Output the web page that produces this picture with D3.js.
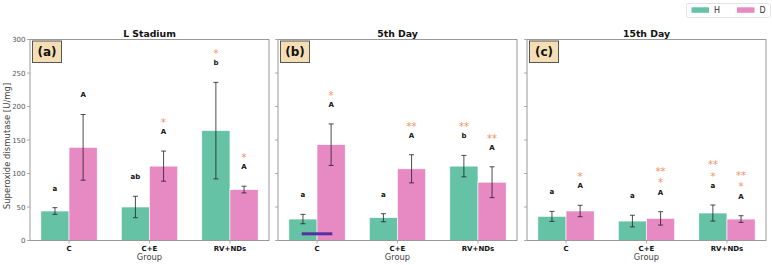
<!DOCTYPE html>
<html><head><meta charset="utf-8">
<script src="https://cdn.jsdelivr.net/npm/d3@7"></script>
<style>body{margin:0;background:#fff}svg{display:block}text{font-family:"DejaVu Sans",sans-serif}</style>
</head><body><svg id="c" width="772" height="265"></svg>
<script>
const groups = ["C", "C+E", "RV+NDs"];
const panelTitles = ["L Stadium", "5th Day", "15th Day"];
const panelTags = ["(a)", "(b)", "(c)"];
const seriesNames = ["H", "D"];
const yTicks = [0, 50, 100, 150, 200, 250, 300];
const hMean = [[44, 50, 164], [32, 34, 111], [36, 29, 41]];
const hErr  = [[5, 16, 72], [7, 6, 16], [7.5, 8.7, 12]];
const dMean = [[139, 111, 76], [143, 107, 87], [44, 33, 32]];
const dErr  = [[49, 22.5, 5], [31, 21, 23], [8.5, 10, 5]];
const hLetters = [["a", "ab", "b"], ["a", "a", "b"], ["a", "a", "a"]];
const dLetters = [["A", "A", "A"], ["A", "A", "A"], ["A", "A", "A"]];
const hStars = [[[], [], ["*"]], [[], [], ["**"]], [[], [], ["*", "**"]]];
const dStars = [[[], ["*"], ["*"]], [["*"], ["**"], ["**"]], [["*"], ["*", "**"], ["*", "**"]]];
const markLine = {panel: 1, group: 0, from: -0.19, to: 0.19, value: 10};

const colors = ["#66c2a5", "#e78ac3"];
const starColor = "#fc8d62";
const svg = d3.select("#c");
const panelLefts = [30, 278, 527], panelW = 239;
const y = d3.scaleLinear().domain([0, 300]).range([240.5, 39.5]);
const bw = 0.35;

panelTitles.forEach((title, p) => {
  const x = d3.scaleLinear().domain([-0.485, 2.485]).range([panelLefts[p], panelLefts[p] + panelW]);
  const g = svg.append("g");
  const series = [
    {mean: hMean[p], err: hErr[p], off: -bw / 2, color: colors[0], letters: hLetters[p], stars: hStars[p]},
    {mean: dMean[p], err: dErr[p], off: bw / 2, color: colors[1], letters: dLetters[p], stars: dStars[p]}
  ];
  series.forEach(s => {
    g.selectAll(null).data(groups).enter().append("rect")
      .attr("x", (d, i) => x(i + s.off - bw / 2))
      .attr("width", (d, i) => x(i + s.off + bw / 2) - x(i + s.off - bw / 2))
      .attr("y", (d, i) => y(s.mean[i]))
      .attr("height", (d, i) => y(0) - y(s.mean[i]))
      .attr("fill", s.color).attr("stroke", "#fff").attr("stroke-width", 0.6);
  });
  series.forEach(s => {
    groups.forEach((gname, i) => {
      const cx = x(i + s.off);
      const top = y(s.mean[i] + s.err[i]), bot = y(s.mean[i] - s.err[i]);
      const eg = g.append("g").attr("stroke", "#222").attr("stroke-opacity", 0.8).attr("stroke-width", 1);
      eg.append("line").attr("x1", cx).attr("x2", cx).attr("y1", top).attr("y2", bot);
      eg.append("line").attr("x1", cx - 2.5).attr("x2", cx + 2.5).attr("y1", top).attr("y2", top);
      eg.append("line").attr("x1", cx - 2.5).attr("x2", cx + 2.5).attr("y1", bot).attr("y2", bot);
      const ly = s.mean[i] + s.err[i] + 29;
      g.append("text").attr("x", cx).attr("y", y(ly) + 2.3).attr("text-anchor", "middle")
        .attr("font-size", 7).attr("font-weight", "bold").attr("fill", "#111").text(s.letters[i]);
      s.stars[i].forEach((st, k) => {
        const sy = ly + 17 + k * 17.5;
        g.append("text").attr("x", cx).attr("y", y(sy) + 5.6).attr("text-anchor", "middle")
          .attr("font-size", 10).attr("fill", starColor).text(st);
      });
    });
  });
  if (markLine.panel === p) {
    g.append("line").attr("x1", x(markLine.group + markLine.from)).attr("x2", x(markLine.group + markLine.to))
      .attr("y1", y(markLine.value)).attr("y2", y(markLine.value))
      .attr("stroke", "#55309e").attr("stroke-width", 3);
  }
  // frame
  g.append("rect").attr("x", x.range()[0]).attr("y", y(300)).attr("width", panelW).attr("height", y(0) - y(300))
    .attr("fill", "none").attr("stroke", "#999").attr("stroke-width", 1);
  // y ticks
  yTicks.forEach(t => {
    g.append("line").attr("x1", x.range()[0] - 3).attr("x2", x.range()[0]).attr("y1", y(t)).attr("y2", y(t))
      .attr("stroke", "#999").attr("stroke-width", 0.8);
    if (p === 0) g.append("text").attr("x", x.range()[0] - 4.5).attr("y", y(t) + 2.5).attr("text-anchor", "end")
      .attr("font-size", 7).attr("fill", "#555").text(t);
  });
  groups.forEach((gname, i) => {
    g.append("line").attr("x1", x(i)).attr("x2", x(i)).attr("y1", y(0)).attr("y2", y(0) + 3)
      .attr("stroke", "#999").attr("stroke-width", 0.8);
    g.append("text").attr("x", x(i)).attr("y", 251).attr("text-anchor", "middle")
      .attr("font-size", 7).attr("font-weight", "bold").attr("fill", "#111").text(gname);
  });
  g.append("text").attr("x", x.range()[0] + panelW / 2).attr("y", 260).attr("text-anchor", "middle")
    .attr("font-size", 8.3).attr("fill", "#444").text("Group");
  g.append("text").attr("x", x.range()[0] + panelW / 2).attr("y", 36.5).attr("text-anchor", "middle")
    .attr("font-size", 9.3).attr("font-weight", "bold").attr("fill", "#111").text(title);
  // tag box
  g.append("rect").attr("x", x.range()[0] + 2.5).attr("y", 41).attr("width", 29).attr("height", 21.5)
    .attr("fill", "#f5deb3").attr("stroke", "#555").attr("stroke-width", 1);
  g.append("text").attr("x", x.range()[0] + 17).attr("y", 56).attr("text-anchor", "middle")
    .attr("font-size", 12).attr("font-weight", "bold").attr("fill", "#111").text(panelTags[p]);
});

svg.append("text").attr("transform", "translate(9.5,146) rotate(-90)").attr("text-anchor", "middle")
  .attr("font-size", 8.5).attr("fill", "#444").text("Superoxide dismutase [U/mg]");

// legend
const lg = svg.append("g");
lg.append("rect").attr("x", 686.5).attr("y", 3.5).attr("width", 84).attr("height", 14).attr("rx", 2)
  .attr("fill", "#fff").attr("stroke", "#ddd").attr("stroke-width", 0.8);
seriesNames.forEach((n, i) => {
  const lx = 691.5 + i * 45.5;
  lg.append("rect").attr("x", lx).attr("y", 7.3).attr("width", 17.5).attr("height", 5.5).attr("fill", colors[i]);
  lg.append("text").attr("x", lx + 22.5).attr("y", 13).attr("font-size", 8).attr("fill", "#333").text(n);
});
</script></body></html>
